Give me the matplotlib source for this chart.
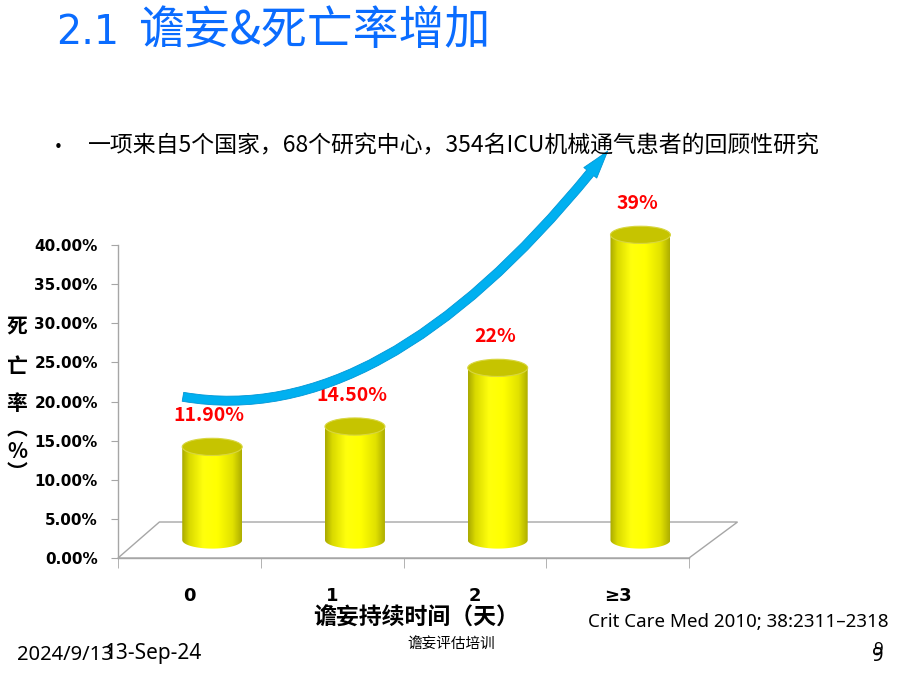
import numpy as np
import matplotlib
matplotlib.use('Agg')
import matplotlib.pyplot as plt
from matplotlib.patches import Ellipse, PathPatch, Polygon, FancyArrowPatch
from matplotlib.path import Path
from matplotlib.colors import LinearSegmentedColormap

# ---------------- data ----------------
categories = ['0', '1', '2', '≥3']
mortality = [11.9, 14.5, 22.0, 39.0]
value_labels = ['11.90%', '14.50%', '22%', '39%']
y_ticks = [0, 5, 10, 15, 20, 25, 30, 35, 40]
y_tick_labels = ['0.00%', '5.00%', '10.00%', '15.00%', '20.00%',
                 '25.00%', '30.00%', '35.00%', '40.00%']
title_num = '2.1'
title_text = '谵妄&死亡率增加'
bullet_text = '一项来自5个国家，68个研究中心，354名ICU机械通气患者的回顾性研究'
y_label_chars = ['死', '亡', '率', '︵', '%', '︶']
x_label = '谵妄持续时间（天）'
citation = 'Crit Care Med 2010; 38:2311–2318'
footer_date1 = '2024/9/13'
footer_date2 = '13-Sep-24'
footer_center = '谵妄评估培训'
page_no = '9'

CJK = ['Noto Sans CJK SC', 'DejaVu Sans']
LAT = ['Noto Sans', 'DejaVu Sans']
plt.rcParams['font.family'] = CJK

W, H = 900, 675
fig = plt.figure(figsize=(9, 6.75), dpi=100)
fig.patch.set_facecolor('white')


def fx(px):
    return px / W


def fy(py):
    return 1 - py / H


# axes: y from 0 (px 558) to 50 (px ~167); spine drawn only up to 40
ax = fig.add_axes([fx(118), fy(558), (689 - 118) / W, (558 - 166.75) / H])
ax.set_facecolor('none')

# 3D-ish geometry (style constants)
dx_l, dx_r, dy = 0.29, 0.34, 4.6
depth_cx = 0.16
base_y = 2.3
bar_w = 0.42
ell_h = 2.2
gray = '#a6a6a6'

# floor
floor = Polygon([(-0.5, 0), (-0.5 + dx_l, dy), (3.5 + dx_r, dy), (3.5, 0)],
                closed=True, facecolor='white', edgecolor=gray, lw=1.0,
                clip_on=False, zorder=1)
ax.add_patch(floor)

cmap = LinearSegmentedColormap.from_list('cyl', [
    (0.0, (0.66, 0.66, 0.0)),
    (0.12, (0.85, 0.85, 0.0)),
    (0.35, (1.0, 1.0, 0.05)),
    (0.6, (1.0, 1.0, 0.0)),
    (0.85, (0.88, 0.88, 0.0)),
    (1.0, (0.68, 0.68, 0.0)),
])
grad = np.linspace(0, 1, 256).reshape(1, -1)

for i, v in enumerate(mortality):
    cx = i + depth_cx
    y0 = base_y
    y1 = base_y + v
    theta = np.linspace(np.pi, 2 * np.pi, 60)
    xs = cx + bar_w / 2 * np.cos(theta)
    ys = y0 + ell_h / 2 * np.sin(theta)
    verts = [(cx - bar_w / 2, y1)] + list(zip(xs, ys)) + [(cx + bar_w / 2, y1), (cx - bar_w / 2, y1)]
    body = PathPatch(Path(verts), facecolor='none', edgecolor='none', zorder=3)
    ax.add_patch(body)
    im = ax.imshow(grad, cmap=cmap, aspect='auto', interpolation='bilinear',
                   extent=[cx - bar_w / 2, cx + bar_w / 2, y0 - ell_h, y1],
                   zorder=3)
    im.set_clip_path(body)
    top = Ellipse((cx, y1), bar_w, ell_h, angle=0, facecolor='#c6c400',
                  edgecolor='#d8d640', lw=0.8, zorder=4)
    ax.add_patch(top)
    ax.text(cx - 0.02, y1 + 4.0, value_labels[i], ha='center', va='center',
            color='#ff0000', fontsize=14, fontweight='bold', family=CJK,
            zorder=5)

ax.set_xlim(-0.5, 3.5)
ax.set_ylim(0, 50)

for s in ['top', 'right']:
    ax.spines[s].set_visible(False)
for s in ['left', 'bottom']:
    ax.spines[s].set_color(gray)
    ax.spines[s].set_linewidth(1.0)
    ax.spines[s].set_zorder(2)
ax.spines['left'].set_bounds(0, 40)

ax.set_yticks(y_ticks)
ax.set_yticklabels(y_tick_labels)
ax.tick_params(axis='y', direction='out', length=5, color=gray, pad=9.5,
               labelsize=11)
for t in ax.get_yticklabels():
    t.set_fontweight('bold')
    t.set_family('DejaVu Sans')

ax.set_xticks(range(len(categories)))
ax.set_xticklabels(categories)
ax.set_xticks([-0.5, 0.5, 1.5, 2.5, 3.5], minor=True)
ax.tick_params(axis='x', which='major', length=0, pad=21, labelsize=13)
ax.tick_params(axis='x', which='minor', direction='out', length=7, color=gray)
for t in ax.get_xticklabels():
    t.set_fontweight('bold')
    t.set_family('DejaVu Sans')

# curved arrow
arrow_path = Path([(-0.045, 20.6), (1.39, 16.1), (2.93, 52.0)],
                  [Path.MOVETO, Path.CURVE3, Path.CURVE3])
arr = FancyArrowPatch(path=arrow_path,
                      arrowstyle='simple,head_length=20,head_width=12,tail_width=6.5',
                      mutation_scale=1, facecolor='#00b0f0', edgecolor='#0096d6',
                      lw=0.6, clip_on=False, zorder=6)
ax.add_patch(arr)

# title
fig.text(fx(56), fy(44), title_num, color='#0a6cff', fontsize=28.5,
         ha='left', va='baseline', family=['DejaVu Sans'])
fig.text(fx(138), fy(44), title_text, color='#0a6cff', fontsize=33,
         ha='left', va='baseline', family=CJK)

# bullet
fig.text(fx(58), fy(148), '•', fontsize=11, ha='center', va='center',
         family=['DejaVu Sans'])
fig.text(fx(88), fy(146), bullet_text, fontsize=16.5, ha='left', va='center',
         color='black', family=CJK)

# y label (vertical characters)
ylab_y = [327, 366, 403, 429, 452, 472]
for ch, yy in zip(y_label_chars, ylab_y):
    fig.text(fx(17), fy(yy), ch, fontsize=15, fontweight='bold',
             ha='center', va='center', family=CJK)

# x label
fig.text(fx(416), fy(618), x_label, fontsize=16.5, fontweight='bold',
         ha='center', va='center', family=CJK)

# citation
fig.text(fx(588), fy(622), citation, fontsize=13.5, ha='left', va='center',
         family=LAT)

# footer
fig.text(fx(17), fy(655), footer_date1, fontsize=14.5, ha='left', va='center',
         family=LAT)
fig.text(fx(104), fy(653), footer_date2, fontsize=15, ha='left', va='center',
         family=LAT)
fig.text(fx(451), fy(644), footer_center, fontsize=10.5, ha='center',
         va='center', family=CJK)
fig.text(fx(878), fy(656), page_no, fontsize=14.5, ha='center', va='center',
         family=LAT)
fig.text(fx(878), fy(650), page_no, fontsize=12, ha='center', va='center',
         family=LAT)

fig.savefig('out.png', dpi=100, facecolor='white')
